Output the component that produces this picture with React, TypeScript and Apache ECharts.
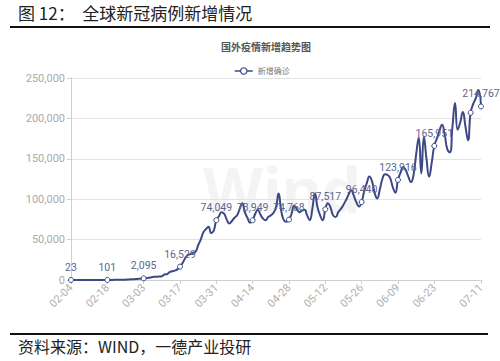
import React, { useEffect, useRef } from "react";
import * as echarts from "echarts";

const startDate = [2020, 1, 4]; // 2020-02-04 (month index 1)
const dayCount = 159;

const newCases = [
  23, 30, 25, 40, 50, 60, 70, 80, 60, 75, 90, 120, 85, 95,
  101, 120, 150, 180, 230, 260, 350, 420, 600, 800, 1000, 1150, 1500, 1800,
  2095, 2300, 2700, 3500, 3900, 4000, 4200, 4600, 6800, 7200, 9800, 10900, 11600, 13200,
  16529, 21000, 27000, 31000, 32000, 33500, 35000, 43000, 50000, 59000, 63000, 66000, 58000, 61000,
  74049, 79000, 84000, 82000, 75000, 70000, 73000, 77000, 80000, 88000, 95000, 84000, 77000, 71000,
  73949, 82000, 87000, 81000, 76000, 74000, 78000, 80000, 83000, 90000, 107000, 86000, 74000, 72000,
  74768, 82000, 92000, 88000, 84000, 86000, 87000, 80000, 74000, 88000, 107000, 90000, 80000, 74000,
  87517, 95000, 90000, 80000, 78000, 84000, 88000, 93000, 99000, 106000, 111000, 104000, 96000, 91000,
  96440, 110000, 120000, 128000, 122000, 108000, 101000, 112000, 125000, 131000, 130000, 126000, 115000, 108000,
  123916, 133000, 140000, 136000, 128000, 121000, 130000, 155000, 176000, 132000, 177000, 150000, 128000, 145000,
  165951, 175000, 185000, 192000, 180000, 162000, 158000, 190000, 219000, 186000, 195000, 208000, 190000, 173000,
  207000, 218000, 225000, 235000, 214767,
];

const markerIndices = [0, 14, 28, 42, 56, 70, 84, 98, 112, 126, 140, 154, 158];
const labelIndices = [0, 14, 28, 42, 56, 70, 84, 98, 112, 126, 140, 158];

const seriesName = "新增确诊";
const chartTitle = "国外疫情新增趋势图";
const figureTitle = "图 12：  全球新冠病例新增情况";
const sourceText = "资料来源：WIND，一德产业投研";

function buildDates(): string[] {
  const out: string[] = [];
  const d0 = new Date(Date.UTC(startDate[0], startDate[1], startDate[2]));
  for (let i = 0; i < dayCount; i++) {
    const d = new Date(d0.getTime() + i * 86400000);
    const mm = String(d.getUTCMonth() + 1).padStart(2, "0");
    const dd = String(d.getUTCDate()).padStart(2, "0");
    out.push(`${mm}-${dd}`);
  }
  return out;
}

const fmt = (v: number) => v.toLocaleString("en-US");
const narrow = "Roboto, sans-serif";

export default function App() {
  const ref = useRef<HTMLDivElement>(null);
  useEffect(() => {
    if (!ref.current) return;
    const chart = echarts.init(ref.current, undefined, { renderer: "svg" });
    const dates = buildDates();
    const lineColor = "#3d4885";
    const data = newCases.map((v, i) => {
      const isMarker = markerIndices.includes(i);
      const isLabel = labelIndices.includes(i);
      const item: any = { value: v };
      if (isMarker) {
        item.symbol = "circle";
        item.symbolSize = 5;
      } else {
        item.symbol = "none";
      }
      if (isLabel) {
        item.label = {
          show: true,
          position: "top",
          distance: 4,
          offset: i === 158 ? [-9, 0] : [0, 0],
        };
      }
      return item;
    });
    const tickFn = (i: number) => (i % 14 === 0 && i <= 140) || i === 158;
    chart.setOption({
      animation: false,
      backgroundColor: "#fff",
      textStyle: { fontFamily: "'Noto Sans', 'Noto Sans CJK SC', sans-serif" },
      title: {
        text: chartTitle,
        left: 261,
        top: 36,
        textAlign: "center",
        textStyle: {
          fontSize: 10,
          fontWeight: "bold",
          color: "#555",
          fontFamily: "'Noto Sans CJK SC', sans-serif",
        },
      },
      legend: {
        top: 62,
        left: 229,
        itemWidth: 18,
        itemHeight: 8,
        itemGap: 4,
        itemStyle: { color: "#fff", borderColor: lineColor, borderWidth: 1.2 },
        lineStyle: { color: lineColor, width: 1.5 },
        textStyle: { fontSize: 8, color: "#777", fontFamily: "'Noto Sans CJK SC', sans-serif" },
        data: [seriesName],
      },
      graphic: [
        {
          type: "text",
          left: 18,
          top: 4,
          style: {
            text: figureTitle,
            fontSize: 17,
            fill: "#222",
            fontFamily: "'Noto Sans CJK SC', sans-serif",
          },
        },
        {
          type: "line",
          shape: { x1: 10, y1: 27, x2: 490, y2: 27 },
          style: { stroke: "#111", lineWidth: 2 },
        },
        {
          type: "line",
          shape: { x1: 10, y1: 334, x2: 488, y2: 334 },
          style: { stroke: "#111", lineWidth: 2 },
        },
        {
          type: "text",
          left: 18,
          top: 338,
          style: {
            text: sourceText,
            fontSize: 16,
            fill: "#222",
            fontFamily: "'Noto Sans CJK SC', sans-serif",
          },
        },
        {
          type: "text",
          left: 203,
          top: 158,
          z: -10,
          style: {
            text: "Wind",
            fontSize: 62,
            fontWeight: "bold",
            fill: "rgba(0,0,0,0.045)",
            fontFamily: "'Noto Sans', sans-serif",
          },
        },
      ],
      grid: { left: 71, right: 19, top: 78, bottom: 81 },
      xAxis: {
        type: "category",
        data: dates,
        boundaryGap: false,
        axisLine: { lineStyle: { color: "#cfcfcf" } },
        axisTick: { interval: tickFn, length: 4, lineStyle: { color: "#cfcfcf" } },
        axisLabel: {
          interval: tickFn,
          rotate: 45,
          fontSize: 11,
          color: "#b0b0b0",
          margin: 6,
          fontFamily: narrow,
        },
      },
      yAxis: {
        type: "value",
        min: 0,
        max: 250000,
        interval: 50000,
        axisLine: { show: true, lineStyle: { color: "#cfcfcf" } },
        axisTick: { show: true, length: 4, lineStyle: { color: "#cfcfcf" } },
        axisLabel: {
          fontSize: 11,
          color: "#aaa",
          margin: 6,
          fontFamily: narrow,
          formatter: (v: number) => fmt(v),
        },
        splitLine: { lineStyle: { color: "#e2e2e2" } },
      },
      series: [
        {
          name: seriesName,
          type: "line",
          data,
          smooth: 0.5,
          showSymbol: true,
          showAllSymbol: true,
          symbol: "circle",
          symbolSize: 5,
          lineStyle: { color: lineColor, width: 2 },
          itemStyle: { color: "#fff", borderColor: lineColor, borderWidth: 1 },
          label: {
            show: false,
            color: "#5d6490",
            fontSize: 10.5,
            fontFamily: narrow,
            formatter: (p: any) => fmt(p.value),
          },
          labelLayout: { hideOverlap: false },
        },
      ],
    });
    return () => chart.dispose();
  }, []);
  return (
    <div
      ref={ref}
      style={{ position: "fixed", left: 0, top: 0, width: 500, height: 361 }}
    />
  );
}
